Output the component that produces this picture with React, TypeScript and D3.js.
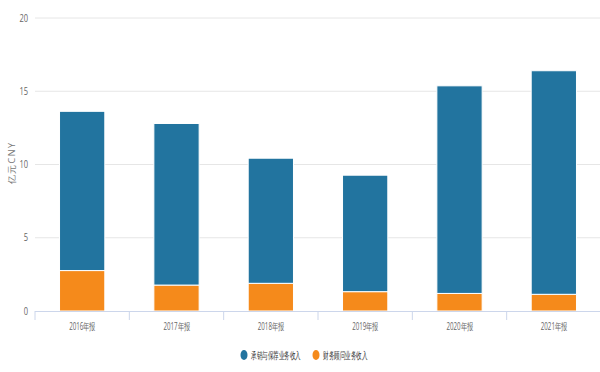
import React from 'react'
import * as d3 from 'd3';

const categories = ['2016年报', '2017年报', '2018年报', '2019年报', '2020年报', '2021年报'];
const underwriting = [10.87, 11.03, 8.54, 7.95, 14.17, 15.26];
const advisory = [2.76, 1.77, 1.89, 1.32, 1.2, 1.14];
const yTicks = [0, 5, 10, 15, 20];
const seriesNames = ['承销与保荐业务收入', '财务顾问业务收入'];
const colors = ['#22749f', '#f58a1b'];

const font = '"Open Sans", sans-serif';

// condensed text: squeezed horizontally like the original's narrow font
type TProps = {
  x: number
  y: number
  sx: number
  size: number
  fill: string
  anchor?: 'start' | 'middle' | 'end'
  children: React.ReactNode
}

const Squeezed: React.FC<TProps> = ({ x, y, sx, size, fill, anchor = 'start', children }) => (
  <text transform={`translate(${x}, ${y}) scale(${sx}, 1)`} dy='0.35em' textAnchor={anchor}
    fontSize={size} fill={fill} fontFamily={font}>{children}</text>
)

const App: React.FC = () => {
  const width = 600;
  const height = 372;
  const left = 35;
  const right = 601;
  const top = 18;
  const bottom = 311;

  const x = d3.scaleBand<string>()
    .domain(categories)
    .range([left, right])
    .paddingInner(0.52)
    .paddingOuter(0.26);

  const y = d3.scaleLinear()
    .domain([0, 20])
    .range([bottom, top]);

  const band = (right - left) / categories.length;

  const legendX = [244, 316];

  return (
    <svg width={width} height={height} style={{ position: 'absolute', left: 0, top: 0 }}>
      <rect width={width} height={height} fill='#fff' />
      {yTicks.map(t => (
        <g key={t}>
          {t > 0 && <line x1={left} x2={width} y1={y(t)} y2={y(t)} stroke='#e6e6e6' strokeWidth={1} />}
          <Squeezed x={28} y={y(t)} sx={0.75} size={10} fill='#666' anchor='end'>{t}</Squeezed>
        </g>
      ))}
      <text transform={`translate(12, 163) rotate(-90)`} textAnchor='middle' fontSize={9} fill='#777' fontFamily={font}
        dy='0.35em' letterSpacing={1.5}>亿元CNY</text>
      {categories.map((c, i) => {
        const x0 = x(c)!;
        const w = x.bandwidth();
        const a = advisory[i];
        const u = underwriting[i];
        return (
          <g key={c}>
            <rect x={x0} y={y(a)} width={w} height={y(0) - y(a)} fill={colors[1]} stroke='#fff' strokeWidth={1} />
            <rect x={x0} y={y(a + u)} width={w} height={y(a) - y(a + u)} fill={colors[0]} stroke='#fff' strokeWidth={1} />
            <Squeezed x={x0 + w / 2} y={326} sx={0.62} size={10} fill='#666' anchor='middle'>{c}</Squeezed>
          </g>
        );
      })}
      <line x1={left} x2={width} y1={bottom + 0.5} y2={bottom + 0.5} stroke='#ccd6eb' strokeWidth={1} />
      {d3.range(categories.length + 1).map(i => (
        <line key={i} x1={left + i * band} x2={left + i * band} y1={bottom} y2={bottom + 9} stroke='#ccd6eb' strokeWidth={1} />
      ))}
      {seriesNames.map((s, i) => (
        <g key={s}>
          <ellipse cx={legendX[i]} cy={355} rx={3.5} ry={5} fill={colors[i]} />
          <Squeezed x={legendX[i] + 7} y={355} sx={0.56} size={10} fill='#333'>{s}</Squeezed>
        </g>
      ))}
    </svg>
  )
}

export default App
